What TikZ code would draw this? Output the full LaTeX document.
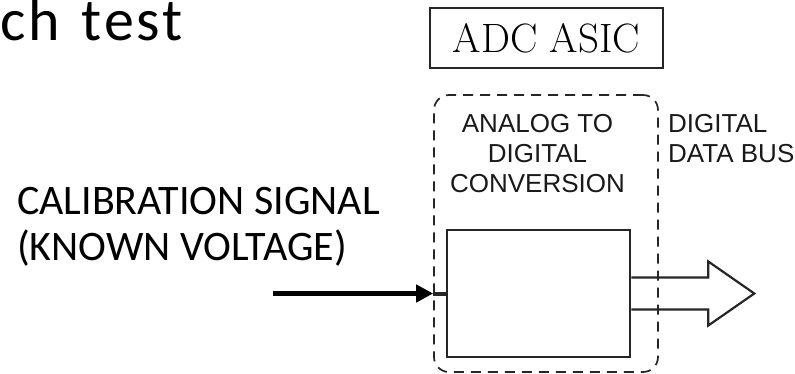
\documentclass[tikz,border=0pt]{standalone}
\usepackage{fontspec}
\newfontfamily\diapo{Carlito}
\newfontfamily\diapotitre[LetterSpace=5,WordSpace=1.3]{Carlito}
\newfontfamily\arial{Liberation Sans}
\usetikzlibrary{arrows.meta}
\definecolor{trait}{HTML}{262626}

\begin{document}
\begin{tikzpicture}[x=1pt, y=-1pt,
        etiquette/.style={font=\arial\fontsize{26}{30}\selectfont, inner sep=0pt, text=black!90},
        cadre/.style={draw=trait, line width=2pt}]
        \useasboundingbox (0,0) rectangle (795,373);

        % Titre de la diapositive (coupe a gauche)
        \node[anchor=base west, inner sep=0pt, font=\diapotitre\fontsize{60}{72}\selectfont] (titre) at (0,40) {ch test};

        % Boite du circuit
        \node[cadre, minimum width=233pt, minimum height=60pt, font=\fontsize{41}{48}\selectfont] (asic) at (546.5,38) {ADC ASIC};

        % Conversion analogique-numerique
        \node[cadre, line width=1.7pt, dash pattern=on 10pt off 7pt, rounded corners=15pt,
              minimum width=224pt, minimum height=277pt] (conv) at (546,233.5) {};
        \node[cadre, line width=2.6pt, minimum width=183pt, minimum height=127pt] (adc) at (538.5,293.5) {};

        % (ancre base = ligne de base de la derniere ligne)
        \node[etiquette, align=center, anchor=base] (conversion) at (537.5,192) {ANALOG TO\\DIGITAL\\CONVERSION};
        \node[etiquette, align=left, anchor=base west] (bus) at (668,162) {DIGITAL\\DATA BUS};

        % Signal de calibration
        \node[anchor=base west, inner sep=0pt, align=left, font=\diapo\fontsize{42}{46}\selectfont] (signal) at (17,260) {CALIBRATION SIGNAL\\(KNOWN VOLTAGE)};
        \coordinate (source) at (273,293.5);
        \coordinate (entree) at (adc.west -| conv.west);
        \draw[line width=5pt, -{Triangle[length=17pt, width=17pt]}] (source) -- (entree);
        \draw[trait, line width=4pt] (entree) -- (adc.west);

        % Bus de donnees (fleche creuse)
        \draw[trait, line width=2.2pt] (adc.east) ++(0,-16) -- ++(77,0) -- ++(0,-16) -- ++(46,32)
            -- ++(-46,32) -- ++(0,-16) -- ++(-77,0);
    \end{tikzpicture}
\end{document}
